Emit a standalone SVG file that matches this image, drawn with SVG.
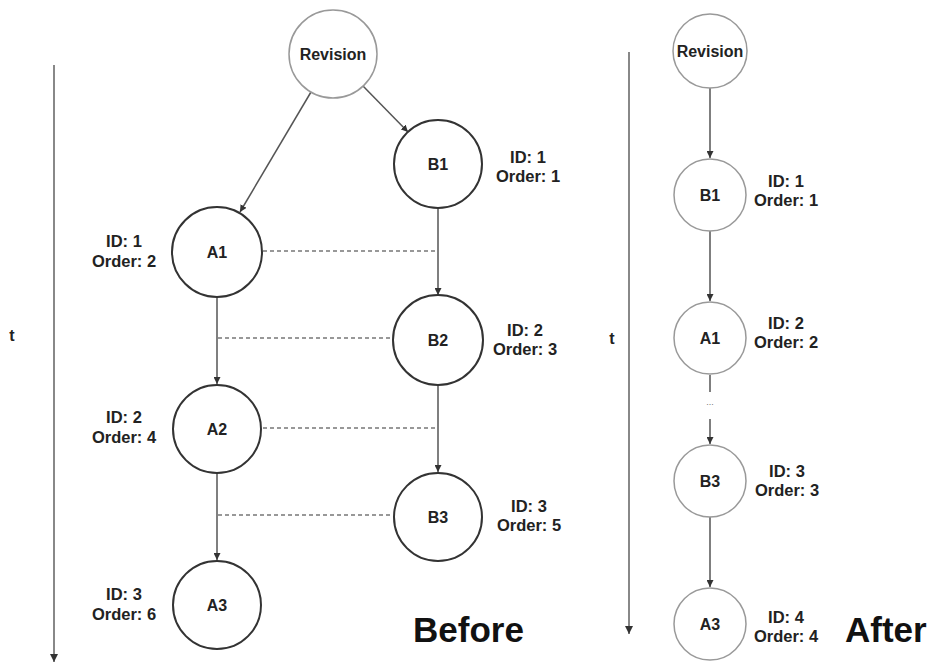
<svg xmlns="http://www.w3.org/2000/svg" width="935" height="668" viewBox="0 0 935 668">
<style>
text{font-family:"Liberation Sans",Arial,sans-serif;font-weight:bold;fill:#222}
.lbl{font-size:16.5px;text-anchor:middle}
.nl{font-size:16px;text-anchor:middle}
.big{font-size:35px;fill:#111}
.nb{fill:#fff;stroke:#333;stroke-width:2}
.ng{fill:#fff;stroke:#999;stroke-width:1.5}
.e{stroke:#555;stroke-width:1.5;fill:none}
.d{stroke:#777;stroke-width:1.5;stroke-dasharray:4 3;fill:none}
.t{stroke:#888;stroke-width:2;fill:none}
</style>
<defs>
<marker id="ah" viewBox="0 0 10 10" refX="10" refY="5" markerWidth="7" markerHeight="7" orient="auto" markerUnits="userSpaceOnUse">
<path d="M0,0 L10,5 L0,10 z" fill="#333"/>
</marker>
<marker id="ta" viewBox="0 0 10 10" refX="10" refY="5" markerWidth="8" markerHeight="8" orient="auto" markerUnits="userSpaceOnUse">
<path d="M0,0 L10,5 L0,10 z" fill="#333"/>
</marker>
</defs>
<rect width="935" height="668" fill="#fff"/>

<g id="connectors">
<line class="t" x1="54" y1="65" x2="54" y2="662" marker-end="url(#ta)"/>
<line class="t" x1="629" y1="52" x2="629" y2="634" marker-end="url(#ta)"/>
<line class="e" x1="311" y1="92" x2="240" y2="212" marker-end="url(#ah)"/>
<line class="e" x1="363" y1="86" x2="408" y2="132" marker-end="url(#ah)"/>
<line class="e" x1="438" y1="209" x2="438" y2="295" marker-end="url(#ah)"/>
<line class="e" x1="438" y1="385" x2="438" y2="472" marker-end="url(#ah)"/>
<line class="e" x1="217" y1="297" x2="217" y2="384" marker-end="url(#ah)"/>
<line class="e" x1="217" y1="474" x2="217" y2="560" marker-end="url(#ah)"/>
<line class="d" x1="263" y1="251" x2="438" y2="251"/>
<line class="d" x1="218" y1="338" x2="393" y2="338"/>
<line class="d" x1="263" y1="428" x2="438" y2="428"/>
<line class="d" x1="218" y1="515" x2="393" y2="515"/>
<line class="e" x1="710" y1="88" x2="710" y2="158" marker-end="url(#ah)"/>
<line class="e" x1="710" y1="231" x2="710" y2="301" marker-end="url(#ah)"/>
<line class="e" x1="710" y1="375" x2="710" y2="392"/>
<text x="710" y="405" style="font-size:9px;font-weight:normal;fill:#777" text-anchor="middle">...</text>
<line class="e" x1="710" y1="419" x2="710" y2="444" marker-end="url(#ah)"/>
<line class="e" x1="710" y1="517" x2="710" y2="587" marker-end="url(#ah)"/>
</g>

<text x="12" y="341" style="font-size:16px" text-anchor="middle">t</text>
<text x="612" y="344" style="font-size:16px" text-anchor="middle">t</text>

<g id="rev1"><circle class="ng" cx="333" cy="54" r="44"/><text class="nl" x="333" y="60">Revision</text></g>
<g id="b1"><circle class="nb" cx="438" cy="164" r="44"/><text class="nl" x="438" y="170">B1</text>
<text class="lbl" x="528" y="163">ID: 1</text><text class="lbl" x="528" y="182">Order: 1</text></g>
<g id="a1"><circle class="nb" cx="217" cy="252" r="45"/><text class="nl" x="217" y="258">A1</text>
<text class="lbl" x="124" y="247">ID: 1</text><text class="lbl" x="124" y="267">Order: 2</text></g>
<g id="b2"><circle class="nb" cx="438" cy="340" r="45"/><text class="nl" x="438" y="346">B2</text>
<text class="lbl" x="525" y="336">ID: 2</text><text class="lbl" x="525" y="355">Order: 3</text></g>
<g id="a2"><circle class="nb" cx="217" cy="429" r="44"/><text class="nl" x="217" y="435">A2</text>
<text class="lbl" x="124" y="423">ID: 2</text><text class="lbl" x="124" y="443">Order: 4</text></g>
<g id="b3"><circle class="nb" cx="438" cy="517" r="44"/><text class="nl" x="438" y="523">B3</text>
<text class="lbl" x="529" y="512">ID: 3</text><text class="lbl" x="529" y="531">Order: 5</text></g>
<g id="a3"><circle class="nb" cx="217" cy="605" r="44"/><text class="nl" x="217" y="611">A3</text>
<text class="lbl" x="124" y="600">ID: 3</text><text class="lbl" x="124" y="620">Order: 6</text></g>
<text class="big" x="413" y="642">Before</text>

<g id="rev2"><circle class="ng" cx="710" cy="51" r="37"/><text class="nl" x="710" y="57">Revision</text></g>
<g id="ab1"><circle class="ng" cx="710" cy="195" r="36"/><text class="nl" x="710" y="201">B1</text>
<text class="lbl" x="786" y="187">ID: 1</text><text class="lbl" x="786" y="206">Order: 1</text></g>
<g id="aa1"><circle class="ng" cx="710" cy="338" r="36"/><text class="nl" x="710" y="344">A1</text>
<text class="lbl" x="786" y="329">ID: 2</text><text class="lbl" x="786" y="348">Order: 2</text></g>
<g id="ab3"><circle class="ng" cx="710" cy="481" r="36"/><text class="nl" x="710" y="487">B3</text>
<text class="lbl" x="787" y="477">ID: 3</text><text class="lbl" x="787" y="496">Order: 3</text></g>
<g id="aa3"><circle class="ng" cx="710" cy="624" r="36"/><text class="nl" x="710" y="630">A3</text>
<text class="lbl" x="786" y="623">ID: 4</text><text class="lbl" x="786" y="642">Order: 4</text></g>
<text class="big" x="845" y="642">After</text>
</svg>
